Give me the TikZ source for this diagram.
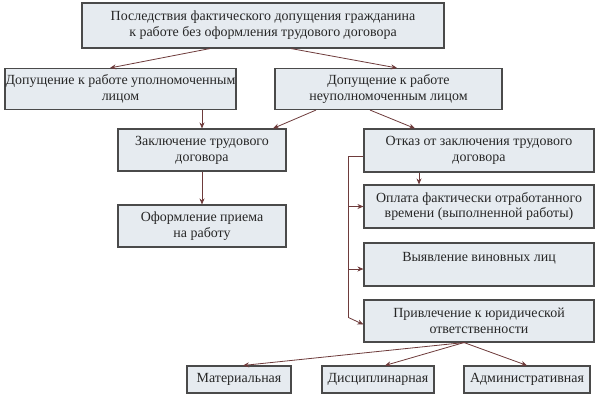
\documentclass[tikz,border=0pt]{standalone}
\usepackage{fontspec}
\setmainfont{Liberation Serif}
\usetikzlibrary{arrows.meta}
\definecolor{boxfill}{HTML}{E6EBF0}
\definecolor{boxline}{HTML}{4A4A4A}
\definecolor{arr}{HTML}{6E3B3B}
\begin{document}
\begin{tikzpicture}[x=1bp,y=-1bp,
  box/.style={draw=boxline, line width=1.1bp, fill=boxfill, align=center, inner sep=0pt,
    font=\fontsize{14}{16}\selectfont, text=black!85},
  conn/.style={draw=arr, line width=0.8bp, -{Stealth[length=6bp,width=5bp]}},
  plain/.style={draw=arr, line width=0.8bp}]
\useasboundingbox (0,0) rectangle (600,409);
\fill[white] (0,0) rectangle (600,409);
\node[box, minimum width=362bp, minimum height=45bp] (top) at (263,25.5)
  {Последствия фактического допущения гражданина\\к работе без оформления трудового договора};
\node[box, minimum width=231bp, minimum height=41bp] (up) at (120.5,89)
  {Допущение к работе уполномоченным\\лицом};
\node[box, minimum width=227bp, minimum height=41bp] (nup) at (388.5,89)
  {Допущение к работе\\неуполномоченным лицом};
\node[box, minimum width=168bp, minimum height=42bp] (zak) at (202,150)
  {Заключение трудового\\договора};
\node[box, minimum width=230bp, minimum height=43bp] (otk) at (479,150.5)
  {Отказ от заключения трудового\\договора};
\node[box, minimum width=168bp, minimum height=42bp] (ofo) at (202,226)
  {Оформление приема\\на работу};
\node[box, minimum width=230bp, minimum height=43bp] (opl) at (479,206.5)
  {Оплата фактически отработанного\\времени (выполненной работы)};
\node[box, minimum width=230bp, minimum height=43bp, text depth=15bp] (vyy) at (479,264.5)
  {Выявление виновных лиц};
\node[box, minimum width=230bp, minimum height=42bp] (pri) at (479,321)
  {Привлечение к юридической\\ответственности};
\node[box, minimum width=104bp, minimum height=27bp] (mat) at (239,379.5) {Материальная};
\node[box, minimum width=112bp, minimum height=27bp] (dis) at (378,379.5) {Дисциплинарная};
\node[box, minimum width=126bp, minimum height=27bp] (adm) at (527,379.5) {Административная};

\draw[conn] ([xshift=-53bp]top.south) -- ([xshift=-10.5bp]up.north);
\draw[conn] ([xshift=28bp]top.south) -- ([xshift=8.5bp]nup.north);
\draw[conn] (up.south -| zak.north) -- (zak.north);
\draw[conn] ([xshift=-72.5bp]nup.south) -- ([xshift=71bp]zak.north);
\draw[conn] ([xshift=-18.5bp]nup.south) -- ([xshift=-64bp]otk.north);
\draw[conn] (zak.south) -- (ofo.north);
\draw[conn] ([xshift=-60bp]otk.south) -- ([xshift=-60bp]opl.north);
\coordinate (br0) at ([xshift=-15bp,yshift=-5.5bp]otk.west);
\coordinate (br1) at ([xshift=-15bp,yshift=3.5bp]pri.west);
\draw[plain] ([yshift=-5.5bp]otk.west) -- (br0) -- (br1);
\draw[conn] (br0 |- opl.west) -- (opl.west);
\draw[conn] ([yshift=-4.5bp]br0 |- vyy.west) -- ([yshift=-4.5bp]vyy.west);
\draw[conn] (br1) -- ([yshift=-3.5bp]pri.west);
\draw[conn] ([xshift=-15bp]pri.south) -- ([xshift=4bp]mat.north);
\draw[conn] ([xshift=-15bp]pri.south) -- ([xshift=7bp]dis.north);
\draw[conn] ([xshift=-15bp]pri.south) -- (adm.north);
\end{tikzpicture}
\end{document}
